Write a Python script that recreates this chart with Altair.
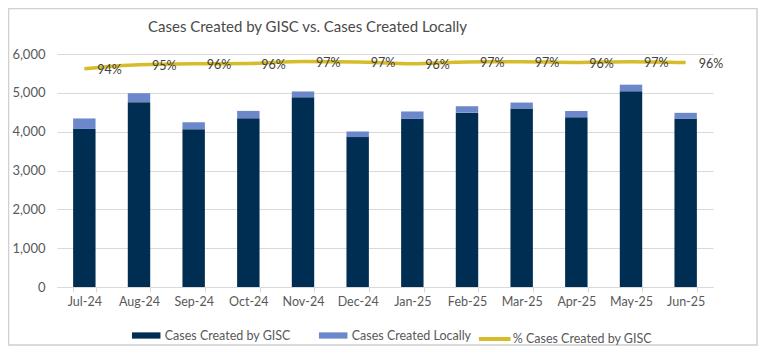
import altair as alt
import pandas as pd

months = ["Jul-24", "Aug-24", "Sep-24", "Oct-24", "Nov-24", "Dec-24",
          "Jan-25", "Feb-25", "Mar-25", "Apr-25", "May-25", "Jun-25"]
gisc = [4070, 4760, 4060, 4345, 4885, 3860, 4330, 4490, 4595, 4370, 5040, 4330]
local = [270, 230, 180, 190, 150, 145, 190, 165, 155, 165, 170, 155]
pct = [0.937, 0.954, 0.958, 0.959, 0.968, 0.966, 0.958, 0.966, 0.967, 0.964, 0.967, 0.963]

S_GISC = "Cases Created by GISC"
S_LOCAL = "Cases Created Locally"
S_PCT = "% Cases Created by GISC"

FONT = "Lato"
TXT = "#595959"
GRID = "#d9d9d9"
NAVY = "#002d52"
LIGHT = "#6c87ca"
GOLD = "#d6bb2b"

rows = []
for m, g, l in zip(months, gisc, local):
    rows.append({"month": m, "series": S_GISC, "value": g, "ord": 0})
    rows.append({"month": m, "series": S_LOCAL, "value": l, "ord": 1})
bars_df = pd.DataFrame(rows)
line_df = pd.DataFrame({"month": months, "pct": pct, "series": [S_PCT] * len(months)})

W, H = 656, 233

xenc = alt.X("month:N", sort=months, title=None,
             scale=alt.Scale(paddingInner=0.59, paddingOuter=0.295),
             axis=alt.Axis(labelAngle=0, tickBand="extent", tickSize=5,
                           tickColor=GRID, domainColor=GRID, labelPadding=3,
                           labelFontSize=12.5, labelColor=TXT, labelFont=FONT))

bars = alt.Chart(bars_df).mark_bar().encode(
    x=xenc,
    y=alt.Y("value:Q", stack="zero", title=None,
            scale=alt.Scale(domain=[0, 6000], nice=False),
            axis=alt.Axis(values=[0, 1000, 2000, 3000, 4000, 5000, 6000], format=",.0f",
                          domain=False, ticks=False, grid=True, gridColor=GRID,
                          labelPadding=12, labelFontSize=13, labelColor=TXT, labelFont=FONT)),
    fill=alt.Fill("series:N",
                  scale=alt.Scale(domain=[S_GISC, S_LOCAL], range=[NAVY, LIGHT]),
                  legend=alt.Legend(title=None, orient="none", legendX=74.7, legendY=267,
                                    direction="horizontal",
                                    symbolType="M-1,-0.22H1V0.22H-1Z", symbolSize=812,
                                    symbolStrokeWidth=0, labelOffset=4, columnPadding=27,
                                    labelFontSize=12.5, labelColor=TXT, labelFont=FONT,
                                    padding=0)),
    order=alt.Order("ord:Q", sort="ascending"),
)

yr = alt.Y("pct:Q", title=None, scale=alt.Scale(domain=[0, 1], nice=False),
           axis=alt.Axis(orient="right", values=[i / 10 for i in range(11)], format=".0%",
                         domain=False, ticks=False, grid=False, labelPadding=10,
                         labelFontSize=13, labelColor=TXT, labelFont=FONT))

line = alt.Chart(line_df).mark_line(strokeWidth=3.5, interpolate="monotone").encode(
    x=alt.X("month:N", sort=months),
    y=yr,
    stroke=alt.Stroke("series:N",
                      scale=alt.Scale(domain=[S_PCT], range=[GOLD]),
                      legend=alt.Legend(title=None, orient="none", legendX=419.7, legendY=267,
                                        direction="horizontal", symbolType="stroke",
                                        symbolSize=1000, symbolStrokeWidth=4, labelOffset=0,
                                        labelFontSize=12.5, labelColor=TXT, labelFont=FONT,
                                        padding=0)),
)

labels = alt.Chart(line_df).mark_text(align="left", baseline="middle", dx=13, dy=1.5,
                                      font=FONT, fontSize=12.5, color="#404040").encode(
    x=alt.X("month:N", sort=months),
    y=alt.Y("pct:Q", axis=None),
    text=alt.Text("pct:Q", format=".0%"),
)

frame = alt.Chart(pd.DataFrame({"a": [0]})).mark_rect(
    fill=None, stroke="#d0d0d0", strokeWidth=1.5, clip=False).encode(
    x=alt.value(-48.5), x2=alt.value(W + 44), y=alt.value(-45.5), y2=alt.value(H + 58))

right = alt.layer(line, labels)

chart = alt.layer(bars, right, frame).resolve_scale(y="independent").properties(
    width=W, height=H,
    title=alt.Title("Cases Created by GISC vs. Cases Created Locally", anchor="start",
                    frame="group", dx=91, offset=-27.5, fontSize=15, font=FONT,
                    fontWeight="normal", color="#4a4a4a"),
    padding={"left": 49, "top": 46, "right": 45, "bottom": 60},
    autosize=alt.AutoSizeParams(type="none"),
).configure_view(stroke=None)

chart.save("out.html", embed_options={"renderer": "svg", "actions": False})
